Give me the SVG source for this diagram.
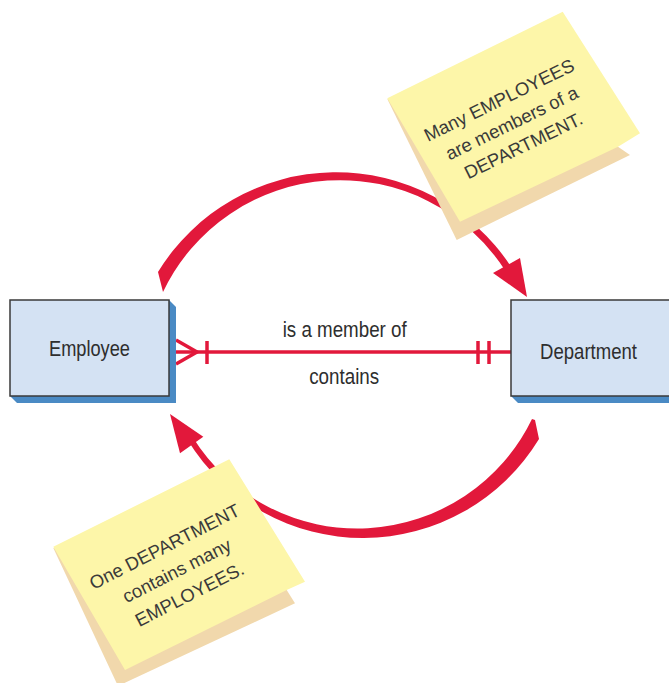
<svg xmlns="http://www.w3.org/2000/svg" width="669" height="683" viewBox="0 0 669 683">
  <style>
    .box { fill: #d4e2f3; stroke: #3a3a3a; stroke-width: 1.5; }
    .shadow { fill: #4a8ac4; }
    .lbl { font-family: "Liberation Sans", Arial, sans-serif; font-size: 22px; fill: #2e2e2e; }
    .rel { stroke: #e2183b; stroke-width: 3.5; fill: none; }
    .arc { fill: #e2183b; }
    .note { fill: #fdf6a9; }
    .curl { fill: #f1d8ac; }
    .ntxt { font-family: "Liberation Sans", Arial, sans-serif; font-size: 18.5px; fill: #3a3a3a; text-anchor: middle; }
  </style>
  <rect width="669" height="683" fill="#ffffff"/>

  <g id="connectors">
    <!-- relationship line with crow's foot notation -->
    <line class="rel" x1="169" y1="352" x2="511" y2="352"/>
    <polyline class="rel" points="176,340 197,352 176,364"/>
    <line class="rel" x1="207" y1="341" x2="207" y2="364"/>
    <line class="rel" x1="478" y1="341" x2="478" y2="364"/>
    <line class="rel" x1="489" y1="341" x2="489" y2="364"/>
    <!-- top curved arrow -->
    <path class="arc" d="M158,272 A209,209 0 0 1 510.7,266.2 L504.8,270 A196,196 0 0 0 163,292 Z"/>
    <polygon class="arc" points="493,273 527,297 520,258"/>
    <!-- bottom curved arrow -->
    <path class="arc" d="M539,439 A206,206 0 0 1 187.9,440.6 L192.9,437.4 A194,194 0 0 0 532,419 L535,420 Z"/>
    <polygon class="arc" points="203.3,436.7 170,414 180,453.3"/>
  </g>

  <g id="employee">
    <polygon class="shadow" points="169,300 176,307 176,403 17,403 10,396"/>
    <rect class="box" x="10" y="300" width="159" height="96"/>
    <text class="lbl" x="89.5" y="355.7" text-anchor="middle" textLength="81" lengthAdjust="spacingAndGlyphs">Employee</text>
  </g>

  <g id="department">
    <polygon class="shadow" points="511,396 518,403 669,403 669,396"/>
    <rect class="box" x="511" y="300" width="170" height="96"/>
    <text class="lbl" x="588.5" y="359" text-anchor="middle" textLength="97" lengthAdjust="spacingAndGlyphs">Department</text>
  </g>

  <g id="label-member">
    <text class="lbl" x="344.7" y="336.7" text-anchor="middle" textLength="124" lengthAdjust="spacingAndGlyphs">is a member of</text>
  </g>
  <g id="label-contains">
    <text class="lbl" x="344.2" y="384" text-anchor="middle" textLength="70" lengthAdjust="spacingAndGlyphs">contains</text>
  </g>

  <g id="note-top">
    <polygon class="curl" points="387.3,99 618,146.7 630,155 456.7,240"/>
    <polygon class="note" points="387.3,98.3 562.7,11.7 640,133.3 618,146.7 460,221.7"/>
    <g transform="translate(511.7,122.8) rotate(-26)">
      <text class="ntxt" x="-1.5" y="-19.5">Many EMPLOYEES</text>
      <text class="ntxt" x="0" y="6.5">are members of a</text>
      <text class="ntxt" x="0.5" y="32">DEPARTMENT.</text>
    </g>
  </g>

  <g id="note-bottom">
    <polygon class="curl" points="53.3,548 286.7,590 295,603.3 118,686"/>
    <polygon class="note" points="53.3,546.7 229.3,459.3 305,581.7 286.7,590 125,670"/>
    <g transform="translate(176.7,570.5) rotate(-27)">
      <text class="ntxt" x="0" y="-20.5">One DEPARTMENT</text>
      <text class="ntxt" x="0" y="6.5">contains many</text>
      <text class="ntxt" x="0.5" y="33.5">EMPLOYEES.</text>
    </g>
  </g>
</svg>
